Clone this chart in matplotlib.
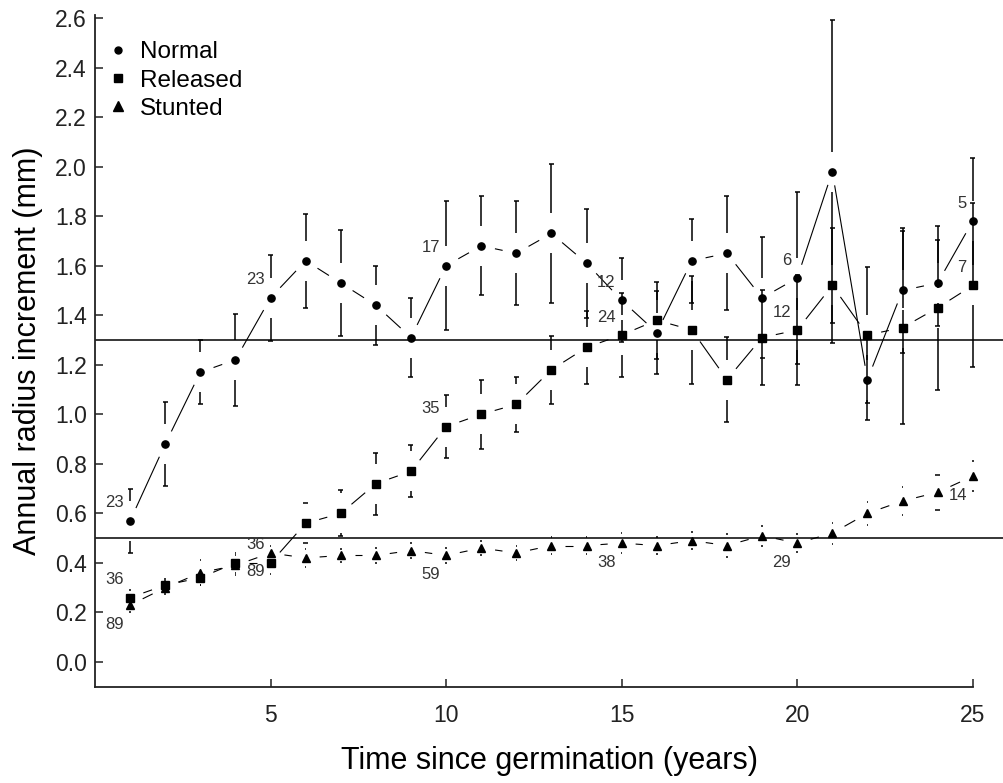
import numpy as np
import matplotlib
matplotlib.use("Agg")
import matplotlib.pyplot as plt
from matplotlib.lines import Line2D
from matplotlib import transforms

plt.rcParams['font.family'] = ['Liberation Sans', 'DejaVu Sans']

# ---------------- data ----------------
years = list(range(1, 26))

normal_mean = [0.57, 0.88, 1.17, 1.22, 1.47, 1.62, 1.53, 1.44, 1.31, 1.60,
               1.68, 1.65, 1.73, 1.61, 1.46, 1.33, 1.62, 1.65, 1.47, 1.55,
               1.98, 1.14, 1.50, 1.53, 1.78]
normal_se = [0.13, 0.17, 0.13, 0.185, 0.175, 0.19, 0.215, 0.16, 0.16, 0.26,
             0.20, 0.21, 0.28, 0.22, 0.17, 0.166, 0.17, 0.23, 0.244, 0.346,
             0.612, 0.163, 0.251, 0.175, 0.254]

released_mean = [0.26, 0.31, 0.34, 0.40, 0.40, 0.56, 0.60, 0.72, 0.77, 0.95,
                 1.00, 1.04, 1.18, 1.27, 1.32, 1.38, 1.34, 1.14, 1.31, 1.34,
                 1.52, 1.32, 1.35, 1.43, 1.52]
released_se = [0.03, 0.025, 0.03, 0.04, 0.045, 0.08, 0.093, 0.125, 0.105, 0.128,
               0.14, 0.11, 0.137, 0.146, 0.17, 0.156, 0.218, 0.173, 0.19, 0.221,
               0.232, 0.276, 0.39, 0.33, 0.331]

stunted_mean = [0.23, 0.30, 0.36, 0.39, 0.44, 0.42, 0.43, 0.43, 0.45, 0.43,
                0.46, 0.44, 0.47, 0.47, 0.48, 0.47, 0.49, 0.47, 0.51, 0.48,
                0.52, 0.60, 0.65, 0.685, 0.75]
stunted_se = [0.03, 0.025, 0.05, 0.04, 0.03, 0.036, 0.028, 0.03, 0.03, 0.03,
              0.03, 0.03, 0.035, 0.035, 0.04, 0.035, 0.035, 0.045, 0.04, 0.035,
              0.042, 0.045, 0.057, 0.07, 0.06]

n_years = [1, 5, 10, 15, 20, 25]
normal_n = [23, 23, 17, 12, 6, 5]
released_n = [36, 36, 35, 24, 12, 7]
stunted_n = [89, 89, 59, 38, 29, 14]

ref_lines = [1.3, 0.5]
x_ticks = [5, 10, 15, 20, 25]
y_ticks = [0.0, 0.2, 0.4, 0.6, 0.8, 1.0, 1.2, 1.4, 1.6, 1.8, 2.0, 2.2, 2.4, 2.6]

# ---------------- figure ----------------
W, H = 1004, 783
fig = plt.figure(figsize=(W / 100, H / 100), dpi=100)
ax = fig.add_axes([95 / W, 1 - 687 / H, (W - 95) / W, (687 - 15) / H])
ax.set_xlim(0, 25.89)
ax.set_ylim(-0.101, 2.612)

for s in ['top', 'right']:
    ax.spines[s].set_visible(False)
ax.spines['bottom'].set_bounds(0, 25)
for s in ['left', 'bottom']:
    ax.spines[s].set_linewidth(1.3)
    ax.spines[s].set_color('#222222')

ax.set_xticks(x_ticks)
ax.set_yticks(y_ticks)
ax.set_yticklabels([f"{v:.1f}" for v in y_ticks])
ax.tick_params(direction='in', length=5.8, width=1.1, labelsize=16.5,
               colors='#222222')
ax.tick_params(axis='y', pad=5.8)
ax.tick_params(axis='x', pad=12)

ax.set_xlabel("Time since germination (years)", fontsize=22, labelpad=14)
ax.set_ylabel("Annual radius increment (mm)", fontsize=22, labelpad=9)

for v in ref_lines:
    ax.axhline(v, color='black', lw=1.1, zorder=1)

fig.canvas.draw()
T = ax.transData
Tinv = T.inverted()


def gapped_line(x, y, gap_px, lw=0.8):
    pts = T.transform(np.column_stack([x, y]))
    for p0, p1 in zip(pts[:-1], pts[1:]):
        d = p1 - p0
        L = np.hypot(*d)
        if L <= 2 * gap_px:
            continue
        u = d / L
        seg = Tinv.transform([p0 + u * gap_px, p1 - u * gap_px])
        ax.plot(seg[:, 0], seg[:, 1], color='black', lw=lw, zorder=2,
                solid_capstyle='butt')


def gapped_err(x, y, e, gap_px, cap_px=2.5, lw=1.1):
    for xi, yi, ei in zip(x, y, e):
        px, py = T.transform((xi, yi))
        _, pt = T.transform((xi, yi + ei))
        L = pt - py
        for sgn in (1, -1):
            end = py + sgn * L
            if L > gap_px:
                seg = Tinv.transform([[px, py + sgn * gap_px], [px, end]])
                ax.plot(seg[:, 0], seg[:, 1], color='black', lw=lw, zorder=2,
                        solid_capstyle='butt')
            hw = cap_px if L > 16 else 0.8
            seg = Tinv.transform([[px - hw, end], [px + hw, end]])
            ax.plot(seg[:, 0], seg[:, 1], color='black', lw=lw, zorder=2,
                    solid_capstyle='butt')


series = [
    (normal_mean, normal_se, 'o', 5.2),
    (released_mean, released_se, 's', 5.6),
    (stunted_mean, stunted_se, '^', 6.2),
]
for mean, se, mk, ms in series:
    gapped_line(years, mean, 14)
    gapped_err(years, mean, se, 20)
    ax.plot(years, mean, linestyle='none', marker=mk, markersize=ms,
            color='black', zorder=3)


# sample size labels
def label_series(mean, nvals, dy):
    for yr, n in zip(n_years, nvals):
        tr = transforms.offset_copy(T, fig=fig, x=-6, y=dy, units='dots')
        ax.text(yr, mean[yr - 1], str(n), transform=tr, ha='right',
                va='center', fontsize=12, color='#333333', zorder=4)


label_series(normal_mean, normal_n, 18)
label_series(released_mean, released_n, 18)
label_series(stunted_mean, stunted_n, -19)

handles = [
    Line2D([], [], linestyle='none', marker='o', markersize=5.0, color='black'),
    Line2D([], [], linestyle='none', marker='s', markersize=6.2, color='black'),
    Line2D([], [], linestyle='none', marker='^', markersize=6.8, color='black'),
]
ax.legend(handles, ["Normal", "Released", "Stunted"], loc='upper left',
          bbox_to_anchor=(0.0, 0.979), frameon=False, fontsize=17.5,
          handlelength=0.9, handletextpad=0.45, labelspacing=0.26,
          borderaxespad=0.3, borderpad=0.2)

fig.savefig("out.png", dpi=100)
